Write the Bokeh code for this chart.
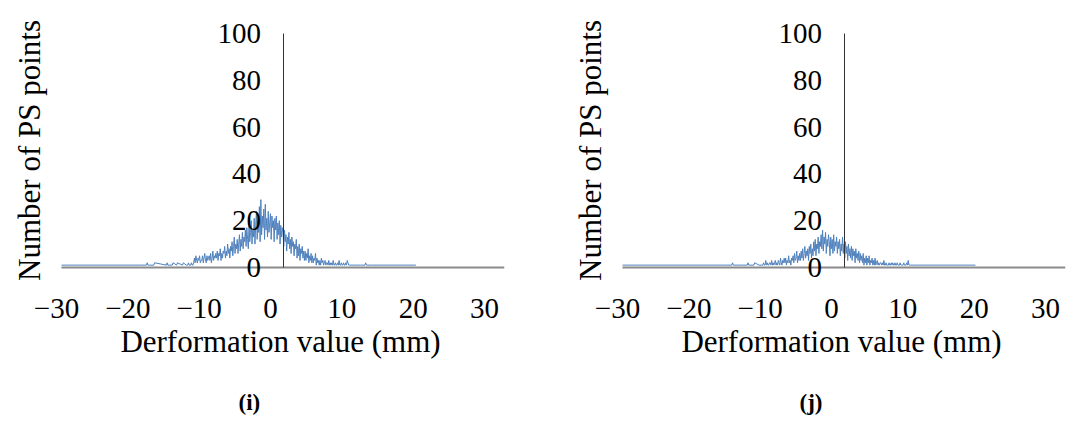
from bokeh.plotting import figure
from bokeh.models import Range1d, LinearAxis, FixedTicker, Title
from bokeh.layouts import row
from bokeh.embed import file_html
from bokeh.resources import INLINE

FONT = "Liberation Serif"
BLUE = "#4F81BD"

x_ticks = [-30, -20, -10, 0, 10, 20, 30]
x_tick_labels = ["\u221230", "\u221220", "\u221210", "0", "10", "20", "30"]
y_ticks = [0, 20, 40, 60, 80, 100]
x_title = "Derformation value (mm)"
y_title = "Number of PS points"

# ---- panel (i) ----
i_left_x = [-30.0, -19.4, -18.5, -18.4, -18.3, -17.5, -17.4, -15.8, -15.7, -15.6, -15.0, -14.9, -14.4, -14.3, -13.6, -13.5, -13.1]
i_left_y = [1, 1, 1, 2, 1, 1, 2, 1, 2, 1, 1, 2, 1, 2, 1, 2, 1]
i_core_start = -13.0
i_core_step = 0.1
i_core_y = [
    1, 1, 2, 1, 1, 1, 2, 1, 1, 2,
    4, 2, 5, 3, 2, 4, 3, 5, 2, 3,
    3, 5, 2, 4, 6, 3, 2, 5, 3, 4,
    5, 3, 6, 2, 4, 7, 3, 5, 4, 6,
    4, 7, 3, 6, 5, 8, 3, 6, 4, 7,
    6, 9, 4, 7, 5, 10, 6, 8, 4, 9,
    7, 11, 5, 9, 13, 6, 10, 8, 12, 6,
    10, 14, 7, 12, 9, 15, 8, 13, 11, 16,
    9, 17, 12, 8, 19, 11, 15, 20, 10, 16,
    13, 21, 10, 18, 24, 12, 20, 15, 26, 11,
    29, 14, 22, 17, 25, 12, 27, 16, 21, 13,
    24, 15, 19, 23, 12, 22, 17, 20, 11, 21,
    16, 22, 12, 19, 14, 20, 10, 18, 13, 17,
    15, 9, 16, 11, 14, 7, 13, 10, 15, 8,
    12, 6, 13, 9, 11, 5, 10, 8, 12, 4,
    9, 5, 10, 3, 8, 6, 9, 4, 7, 3,
    7, 3, 6, 4, 8, 2, 5, 3, 6, 2,
    5, 2, 4, 3, 6, 1, 4, 2, 3, 1,
    3, 1, 4, 2, 3, 1, 2, 3, 1, 2,
    2, 1, 3, 1, 2, 1, 2, 1, 3, 1,
    1, 2, 1, 1, 2, 1, 3, 1, 1, 2,
    1, 1, 2, 1, 1, 2, 1, 3, 2, 1,
]
i_right_x = [9.0, 9.5, 10.5, 11.1, 11.2, 11.3, 12.0, 18.0]
i_right_y = [1, 1, 1, 1, 2, 1, 1, 1]

# ---- panel (j) ----
j_left_x = [-30.0, -15.2, -15.1, -15.0, -13.1, -13.0, -12.9, -12.2, -12.1, -11.5, -11.1]
j_left_y = [1, 1, 2, 1, 1, 2, 1, 1, 2, 1, 1]
j_core_start = -11.0
j_core_step = 0.1
j_core_y = [
    1, 2, 1, 1, 3, 1, 2, 1, 1, 2,
    2, 1, 3, 1, 2, 1, 2, 3, 1, 2,
    1, 3, 2, 1, 4, 2, 1, 3, 2, 4,
    2, 4, 1, 3, 2, 5, 2, 3, 1, 4,
    3, 5, 2, 6, 3, 4, 7, 2, 5, 3,
    6, 3, 7, 4, 8, 3, 6, 9, 4, 7,
    5, 8, 3, 9, 6, 10, 4, 8, 5, 11,
    7, 12, 5, 10, 8, 13, 6, 11, 9, 14,
    8, 16, 7, 13, 10, 15, 6, 12, 9, 14,
    11, 5, 13, 8, 12, 6, 14, 7, 11, 9,
    13, 6, 11, 8, 12, 5, 10, 7, 13, 6,
    10, 4, 11, 6, 9, 3, 10, 5, 8, 4,
    9, 3, 8, 5, 7, 2, 8, 4, 6, 3,
    7, 2, 6, 3, 5, 2, 6, 1, 4, 2,
    5, 1, 4, 2, 5, 1, 3, 2, 4, 1,
    3, 1, 4, 1, 2, 3, 1, 2, 1, 2,
    2, 1, 2, 1, 3, 1, 1, 2, 1, 1,
    1, 2, 1, 1, 2, 1, 2, 1, 1, 2,
    1, 1, 2, 1, 1, 1, 2, 1, 1, 1,
    1, 2, 1, 1, 1, 2, 1, 3, 1, 1,
]
j_right_x = [9.0, 9.5, 10.0, 17.8]
j_right_y = [1, 1, 1, 1]


def series(left_x, left_y, start, step, core_y, right_x, right_y):
    core_x = [round(start + step * k, 3) for k in range(len(core_y))]
    return left_x + core_x + right_x, left_y + core_y + right_y


def make_panel(xs, ys, caption, right_border):
    p = figure(frame_width=448, frame_height=262,
               x_range=Range1d(-30.68, 30), y_range=Range1d(-6, 106),
               x_axis_type=None, y_axis_type=None,
               output_backend="svg", toolbar_location=None,
               min_border_left=56, min_border_right=right_border,
               min_border_top=19, min_border_bottom=149,
               outline_line_color=None, background_fill_color="white",
               border_fill_color="white")
    p.extra_x_ranges = {"lbl": Range1d(-30, 32.8)}

    # y title axis (left, invisible apart from its title)
    ytitle_axis = LinearAxis(ticker=FixedTicker(ticks=[]), axis_line_color=None,
                             major_tick_line_color=None, minor_tick_line_color=None,
                             major_label_text_font_size="0px",
                             axis_label=y_title, axis_label_text_font=FONT,
                             axis_label_text_font_size="31px",
                             axis_label_text_font_style="normal",
                             axis_label_text_color="black",
                             axis_label_standoff=10)
    p.add_layout(ytitle_axis, "left")

    # y axis crossing at x = 0
    yax = LinearAxis(fixed_location=0, bounds=(0, 100), ticker=FixedTicker(ticks=y_ticks),
                     axis_line_color="#333333", axis_line_width=1,
                     major_tick_out=0, major_tick_in=0, minor_tick_line_color=None,
                     major_label_standoff=22, major_label_text_font=FONT,
                     major_label_text_font_size="29px", major_label_text_color="black")
    p.add_layout(yax, "left")

    # x axis line at y = 0 (only from -30 to 30)
    xline = LinearAxis(fixed_location=0, ticker=FixedTicker(ticks=[]), bounds=(-30, 30),
                       axis_line_color="#8a8a8a",
                       axis_line_width=2, major_tick_out=0, major_tick_in=0,
                       minor_tick_line_color=None, major_label_text_font_size="0px")
    p.add_layout(xline, "below")

    # x tick labels + title
    xlab = LinearAxis(x_range_name="lbl", ticker=FixedTicker(ticks=x_ticks),
                      major_label_overrides={t: l for t, l in zip(x_ticks, x_tick_labels)},
                      axis_line_color=None, major_tick_out=0, major_tick_in=0,
                      minor_tick_line_color=None, major_label_standoff=17,
                      major_label_text_font=FONT, major_label_text_font_size="29px",
                      major_label_text_color="black",
                      axis_label=x_title, axis_label_text_font=FONT,
                      axis_label_text_font_size="31px", axis_label_text_font_style="normal",
                      axis_label_text_color="black", axis_label_standoff=3)
    p.add_layout(xlab, "below")

    p.add_layout(Title(text=caption, align="left", offset=182, text_font=FONT,
                       text_font_size="23px", text_font_style="bold",
                       text_color="black", standoff=53), "below")

    p.line(xs, ys, line_color=BLUE, line_width=1)
    return p


ix, iy = series(i_left_x, i_left_y, i_core_start, i_core_step, i_core_y, i_right_x, i_right_y)
jx, jy = series(j_left_x, j_left_y, j_core_start, j_core_step, j_core_y, j_right_x, j_right_y)

p1 = make_panel(ix, iy, "(i)", 57)
p2 = make_panel(jx, jy, "(j)", 10)

layout = row(p1, p2)
open("out.html", "w").write(file_html(layout, INLINE))
